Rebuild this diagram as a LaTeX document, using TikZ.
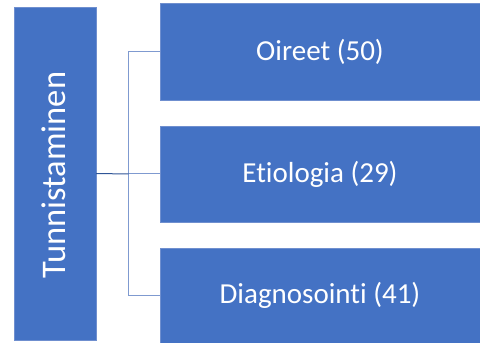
\documentclass[tikz,border=0pt]{standalone}
\usepackage{fontspec}
\setmainfont[Ligatures={NoCommon}]{Carlito}
\definecolor{boxblue}{HTML}{4472C4}
\definecolor{boxedge}{HTML}{6F8FCF}
\definecolor{connline}{HTML}{7F9AD0}
\definecolor{conndark}{HTML}{2F5597}
\begin{document}
\begin{tikzpicture}[x=1pt,y=1pt,
  blk/.style={draw=boxedge, line width=0.8pt, fill=boxblue, text=white, inner sep=0pt, outer sep=0pt},
  conn/.style={draw=connline, line width=1pt},
  lbl/.style={text=white, font=\fontsize{29}{35}\selectfont}]
\useasboundingbox (0,0) rectangle (480,343);
\node[blk, minimum width=82pt, minimum height=333pt] (L) at (55,169.5) {};
\node[text=white, rotate=90, font=\fontsize{34.5}{42}\selectfont] (Lt) at (53.5,168) {Tunnistaminen};
\node[blk, minimum width=320pt, minimum height=97pt] (A) at (320,291.5) {};
\node[lbl] (At) at (A.center) {Oireet (50)};
\node[blk, minimum width=320pt, minimum height=96pt] (B) at (320,169) {};
\node[lbl] (Bt) at (B.center) {Etiologia (29)};
\node[blk, minimum width=320pt, minimum height=95pt] (C) at (320,47.5) {};
\node[lbl] (Ct) at (C.center) {Diagnosointi (41)};
\coordinate (j) at (128.5,0);
\draw[conn] (A.west) -- (A.west -| j) -- (C.west -| j) -- (C.west);
\draw[conn] (B.west -| j) -- (B.west);
\draw[draw=conndark, line width=1pt] (L.east) -- (B.west -| j);
\end{tikzpicture}
\end{document}
